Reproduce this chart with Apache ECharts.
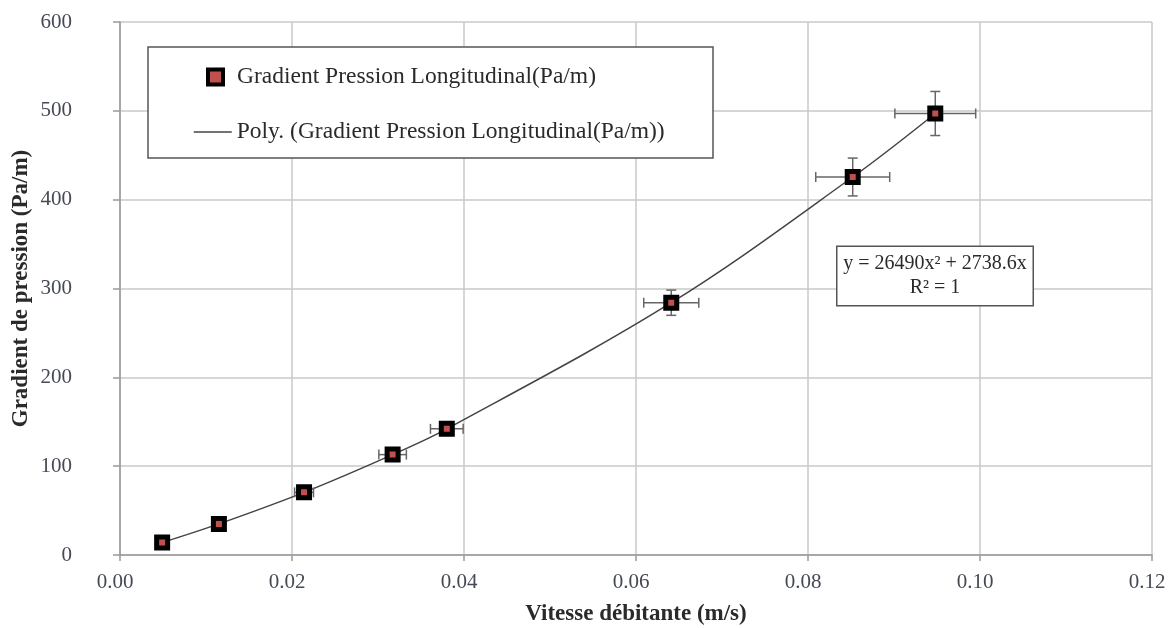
<!DOCTYPE html>
<html>
<head>
<meta charset="utf-8">
<script src="https://cdn.jsdelivr.net/npm/echarts@6/dist/echarts.min.js"></script>
<style>
  html, body { margin: 0; padding: 0; background: #fff; }
  #chart { width: 1173px; height: 628px; }
</style>
</head>
<body>
<div id="chart"></div>
<script>
// valeurs
const vitesse = [0.0049, 0.0115, 0.0214, 0.0317, 0.0380, 0.0641, 0.0852, 0.0948];
const gradient = [14, 35, 70.5, 113, 142, 284, 425.5, 497];
// barres d'erreur (demi-largeurs)
const errVitesse = [0.00025, 0.0006, 0.0011, 0.0016, 0.0019, 0.0032, 0.0043, 0.0047];
const errGradient = [0.7, 1.8, 3.5, 5.6, 7.1, 14.2, 21.3, 24.8];
const xTicks = [0, 0.02, 0.04, 0.06, 0.08, 0.10, 0.12];
const yTicks = [0, 100, 200, 300, 400, 500, 600];

const nomSerie = 'Gradient Pression Longitudinal(Pa/m)';
const nomPoly = 'Poly. (Gradient Pression Longitudinal(Pa/m))';
const serif = '"Liberation Serif", "DejaVu Serif", serif';

const points = vitesse.map((v, i) => [v, gradient[i]]);
const erreurs = vitesse.map((v, i) => [v, gradient[i], errVitesse[i], errGradient[i]]);

const chart = echarts.init(document.getElementById('chart'));

function renderErreur(params, api) {
  const x = api.value(0), y = api.value(1);
  const dx = api.value(2), dy = api.value(3);
  const l = api.coord([x - dx, y]);
  const r = api.coord([x + dx, y]);
  const t = api.coord([x, y + dy]);
  const b = api.coord([x, y - dy]);
  const cap = 5;
  const st = { stroke: '#666', lineWidth: 1.5 };
  return {
    type: 'group',
    children: [
      { type: 'line', shape: { x1: l[0], y1: l[1], x2: r[0], y2: r[1] }, style: st },
      { type: 'line', shape: { x1: l[0], y1: l[1] - cap, x2: l[0], y2: l[1] + cap }, style: st },
      { type: 'line', shape: { x1: r[0], y1: r[1] - cap, x2: r[0], y2: r[1] + cap }, style: st },
      { type: 'line', shape: { x1: t[0], y1: t[1], x2: b[0], y2: b[1] }, style: st },
      { type: 'line', shape: { x1: t[0] - cap, y1: t[1], x2: t[0] + cap, y2: t[1] }, style: st },
      { type: 'line', shape: { x1: b[0] - cap, y1: b[1], x2: b[0] + cap, y2: b[1] }, style: st }
    ]
  };
}

const option = {
  backgroundColor: '#fff',
  animation: false,
  grid: { left: 120, right: 21, top: 22, bottom: 73, outerBoundsMode: 'none', containLabel: false },
  xAxis: {
    type: 'value',
    min: xTicks[0],
    max: xTicks[xTicks.length - 1],
    interval: 0.02,
    name: 'Vitesse débitante (m/s)',
    nameLocation: 'middle',
    nameGap: 48,
    nameTextStyle: { fontFamily: serif, fontSize: 23, fontWeight: 'bold', color: '#2a2a2a' },
    axisLine: { lineStyle: { color: '#999', width: 1.5 } },
    axisTick: { show: true, length: 6, lineStyle: { color: '#999', width: 1.5 } },
    axisLabel: {
      margin: 17, fontFamily: serif, fontSize: 21, color: '#454a55',
      padding: [0, 10, 0, 0],
      formatter: v => v.toFixed(2)
    },
    splitLine: { show: true, lineStyle: { color: '#c8c8c8', width: 1.5 } }
  },
  yAxis: {
    type: 'value',
    min: yTicks[0],
    max: yTicks[yTicks.length - 1],
    interval: 100,
    name: 'Gradient de pression (Pa/m)',
    nameLocation: 'middle',
    nameGap: 87,
    nameMoveOverlap: false,
    nameTextStyle: { fontFamily: serif, fontSize: 23, fontWeight: 'bold', color: '#2a2a2a' },
    axisLine: { show: true, lineStyle: { color: '#999', width: 1.5 } },
    axisTick: { show: true, length: 7, lineStyle: { color: '#999', width: 1.5 } },
    axisLabel: { margin: 48, fontFamily: serif, fontSize: 21, color: '#454a55' },
    splitLine: { show: true, lineStyle: { color: '#c8c8c8', width: 1.5 } }
  },
  legend: [
    {
      data: [nomSerie],
      left: 206, top: 65, padding: 0,
      itemWidth: 15, itemHeight: 15, itemGap: 0,
      itemStyle: { color: '#c0504d', borderColor: '#000', borderWidth: 4 },
      textStyle: { fontFamily: serif, fontSize: 23.5, color: '#2a2a2a', padding: [0, 0, 0, 9] },
      selectedMode: false, z: 5
    },
    {
      data: [nomPoly],
      left: 193, top: 120, padding: 0,
      itemWidth: 38, itemHeight: 16, itemGap: 0,
      itemStyle: { opacity: 0 },
      lineStyle: { color: '#444', width: 1.5, opacity: 1 },
      textStyle: { fontFamily: serif, fontSize: 23.5, color: '#2a2a2a' },
      selectedMode: false, z: 5
    }
  ],
  graphic: [
    {
      type: 'rect', z: 3,
      shape: { x: 148, y: 47, width: 565, height: 111 },
      style: { fill: '#fff', stroke: '#555', lineWidth: 1.5 }
    },
    {
      type: 'text', z: 3,
      x: 935, y: 276,
      style: {
        text: 'y = 26490x² + 2738.6x\nR² = 1',
        font: '20px ' + serif,
        fill: '#2a2a2a',
        align: 'center',
        verticalAlign: 'middle',
        lineHeight: 24,
        backgroundColor: '#fff',
        borderColor: '#555',
        borderWidth: 1.5,
        padding: [5, 6, 5, 6],
        width: 183
      }
    }
  ],
  series: [
    {
      name: nomPoly,
      type: 'line',
      data: points,
      smooth: 0.35,
      symbol: 'none',
      lineStyle: { color: '#444', width: 1.5 },
      z: 2
    },
    {
      name: 'erreurs',
      type: 'custom',
      data: erreurs,
      renderItem: renderErreur,
      z: 3
    },
    {
      name: nomSerie,
      type: 'scatter',
      data: points,
      symbol: 'rect',
      symbolSize: 11,
      itemStyle: { color: '#c0504d', borderColor: '#000', borderWidth: 5, opacity: 1 },
      z: 4
    }
  ]
};

chart.setOption(option);
</script>
</body>
</html>
